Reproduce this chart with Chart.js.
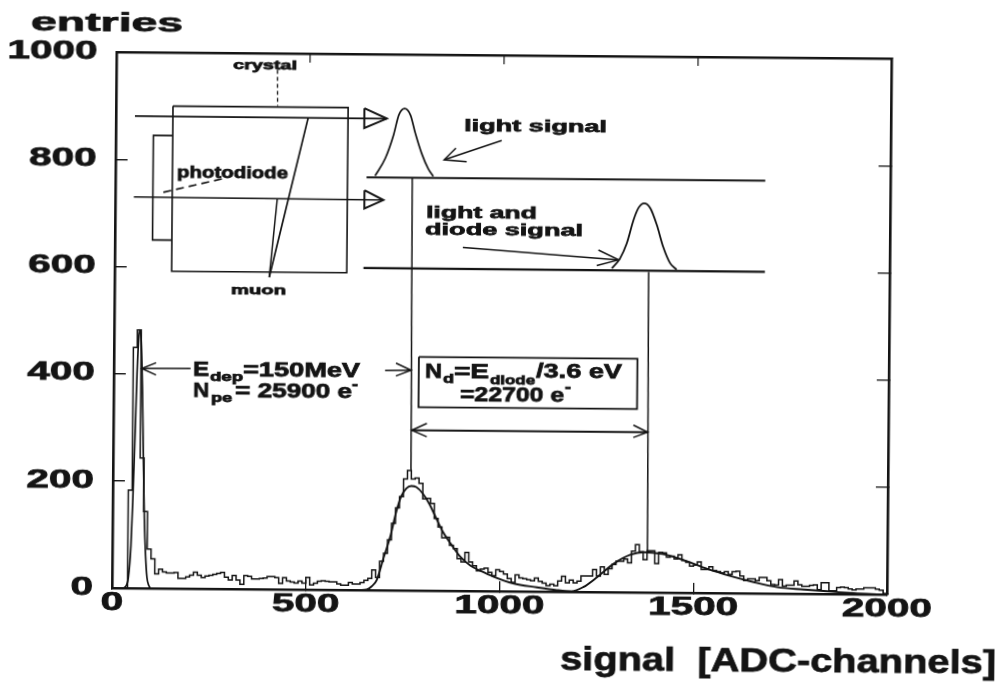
<!DOCTYPE html>
<html>
<head>
<meta charset="utf-8">
<title>signal spectrum</title>
<script src="https://cdn.jsdelivr.net/npm/chart.js@4"></script>
<style>
html,body{margin:0;padding:0;background:#fff;width:1000px;height:682px;overflow:hidden}
#c{display:block;transform-origin:112px 588px;transform:rotate(0.48deg)}
</style>
</head>
<body>
<canvas id="c" width="1000" height="682"></canvas>
<script>
// ---- histogram: entries per 10-ADC-channel bin
const binWidth = 10;
const entries = [
0,0,0,0,183,449,482,243,143,73,
55,27,36,31,29,29,30,19,19,22,
25,31,25,21,24,25,27,29,31,22,
17,25,17,9,25,24,19,19,20,21,
24,24,22,11,22,16,14,12,16,12,
23,9,12,16,17,16,15,15,11,9,
9,14,11,11,14,18,22,38,24,54,
69,94,125,154,175,208,224,208,210,200,
171,172,163,135,119,99,100,85,79,60,
54,72,54,47,38,41,43,35,29,40,
37,32,24,17,31,25,24,22,20,25,
19,16,11,14,11,20,29,17,22,17,
20,30,30,30,42,30,47,33,44,52,
58,58,62,55,77,89,76,61,78,78,
54,75,74,66,68,63,71,60,57,50,
52,58,44,44,49,42,40,38,40,35,
40,41,32,24,27,27,24,30,30,24,
17,16,26,14,16,16,24,17,14,14,
16,17,8,21,21,6,6,12,13,12,
10,8,10,10,12,12,12,10,8,2];

// ---- fitted curves
const pedestalFit = [[28,0],[35,3],[42,20],[48,80],[52,170],[56,280],[60,400],[64,470],[67,482],[70,465],[74,380],[78,250],[82,130],[86,60],[90,20],[95,5],[100,0]];
const peakFit = [[640,0],[657,1],[670,7],[683,19],[700,60],[718,103],[731,144],[744,175],[757,190],[770,195],[783,193],[800,181],[817,162],[834,137],[851,112],[873,88],[899,63],[925,47],[950,38],[985,27],[1035,15],[1096,8],[1148,3],[1186,1],[1216,9],[1252,28],[1294,53],[1337,70],[1371,75],[1419,72],[1475,61],[1536,45],[1596,32],[1656,21],[1717,12],[1785,8],[1846,5],[1914,2],[1984,0]];

// ---- inset sketch, in axis units
const crystalBox = [[147,900],[599,900],[599,592],[147,592],[147,900]];
const diodeBox = [[147,845],[97,845],[97,650],[147,650]];
const upperRay = [[49,881],[699,880]];
const upperHead = [[641,899],[699,880],[641,862],[641,899]];
const lowerRay = [[48,730],[692,728]];
const lowerHead = [[643,746],[692,728],[643,712],[643,746]];
const muonLong = [[399,582],[496,880]];
const muonShort = [[399,582],[418,728]];
const crystalLead = [[416,969],[417,902]];
const diodeLead = [[124,739],[287,767]];
const lightBase = [[648,770],[1677,770]];
const lightPulse = [[670,773],[696,806],[717,850],[730,887],[745,899],[760,887],[773,853],[790,815],[807,787],[820,773]];
const diodeBase = [[642,601],[1678,600]];
const diodePulse = [[1283,604],[1304,623],[1321,651],[1338,695],[1351,718],[1365,726],[1381,717],[1398,686],[1415,645],[1433,615],[1450,603]];
const lightDrop = [[766,769],[769,225]];
const diodeDrop = [[1378,598],[1381,76]];
const spanLine = [[770,299],[1379,299]];
const spanLeft = [[809,312],[770,299],[809,287]];
const spanRight = [[1342,312],[1379,299],[1342,289]];
const depArrow = [[198,411],[72,410]];
const depHead = [[109,421],[72,410],[109,398]];
const nextArrow = [[700,410],[767,411]];
const nextHead = [[728,424],[767,411],[728,400]];
const lightArrow = [[996,841],[848,804]];
const lightHead = [[878,826],[848,804],[906,801]];
const bothArrow = [[898,641],[1300,620]];
const bothHead = [[1248,638],[1300,620],[1244,609]];
const noteBox = [[787,436],[1351,436],[1351,342],[787,342],[787,436]];

// ---- axes
const xTicks = [0,500,1000,1500,2000];
const yTicks = [0,200,400,600,800,1000];

// ---- text: string, left and baseline on the page, font size, width on the page
const texts = [
 ['entries',31,30,25,152],
 ['signal  [ADC-channels]',560,670,33,436],
 ['crystal',233,69,13,64],
 ['photodiode',177,178,16,111],
 ['muon',231,294,13,55],
 ['light signal',464,131,17,143],
 ['light and',426,218,17,111],
 ['diode signal',425,235,17,158],
 ['E',193,376,20,16],['dep',210,381,12,33],['=150MeV',243,376,20,117],
 ['N',193,397,20,16],['pe',211,402,12,21],['= 25900 e',235,397,20,117],['-',352,389,14,6],
 ['N',425,378,20,17],['d',443,383,12,11],['=E',454,378,20,35],['diode',490,384,12,45],['/3.6 eV',536,378,20,86],
 ['=22700 e',460,401,20,104],['-',565,392,14,6]
];

const INK = '#141414';
const toPts = a => a.map(p => ({x:p[0], y:p[1]}));
const sketch = (a, w, extra) => Object.assign({type:'line', data:toPts(a), borderColor:INK, borderWidth:w, pointRadius:0, fill:false, tension:0}, extra || {});

const histPoints = [{x:0,y:0}].concat(entries.map((v,i) => ({x:i*binWidth, y:v})), [{x:entries.length*binWidth, y:0}]);

const datasets = [
 {type:'line', label:'entries', data:histPoints, stepped:true, borderColor:INK, borderWidth:1.5, pointRadius:0, fill:false},
 sketch(pedestalFit,1.7,{cubicInterpolationMode:'monotone'}),
 sketch(peakFit,1.9,{cubicInterpolationMode:'monotone'}),
 sketch(crystalBox,1.6), sketch(diodeBox,1.6),
 sketch(upperRay,1.7), sketch(upperHead,2), sketch(lowerRay,1.6), sketch(lowerHead,2),
 sketch(muonLong,1.7), sketch(muonShort,1.5),
 sketch(crystalLead,1.3,{borderDash:[4,3]}), sketch(diodeLead,1.6,{borderDash:[8,5]}),
 sketch(lightBase,2.1), sketch(lightPulse,1.7,{cubicInterpolationMode:'monotone'}),
 sketch(diodeBase,2.1), sketch(diodePulse,1.8,{cubicInterpolationMode:'monotone'}),
 sketch(lightDrop,1.5), sketch(diodeDrop,1.5),
 sketch(spanLine,1.8), sketch(spanLeft,1.5), sketch(spanRight,1.5),
 sketch(depArrow,1.4), sketch(depHead,1.5), sketch(nextArrow,1.4), sketch(nextHead,1.5),
 sketch(lightArrow,1.5), sketch(lightHead,1.5), sketch(bothArrow,1.6), sketch(bothHead,1.5),
 sketch(noteBox,1.8)
];

const TILT = 0.48 * Math.PI / 180;
let stretch = 1.62;

const inkText = {
 id:'inkText',
 beforeDraw(chart){
  const ctx = chart.ctx;
  if (ctx.__wrapped) return;
  ctx.__wrapped = true;
  const fill = ctx.fillText.bind(ctx), stroke = ctx.strokeText.bind(ctx);
  ctx.fillText = function(t, x, y){
   ctx.save();
   ctx.translate(x, y);
   ctx.scale(stretch, 1);
   ctx.lineWidth = 0.75;
   ctx.strokeStyle = ctx.fillStyle;
   fill(t, 0, 0);
   stroke(t, 0, 0);
   ctx.restore();
  };
 },
 afterDraw(chart){
  const ctx = chart.ctx, th = Math.tan(TILT);
  ctx.save();
  ctx.fillStyle = INK;
  ctx.textAlign = 'left';
  ctx.textBaseline = 'alphabetic';
  texts.forEach(([t,X,Y,size,w]) => {
   const dx = X-112, dy = 588-Y;
   const v = dy + dx*th, u = dx - v*th;
   ctx.font = 'bold '+size+'px "Liberation Sans"';
   stretch = w / ctx.measureText(t).width;
   ctx.fillText(t, 112+u, 588-v);
  });
  stretch = 1.62;
  ctx.restore();
 }
};

const frame = {display:true, color:INK, width:2.6};
const tickFont = {family:'"Liberation Sans"', size:25, weight:'bold'};
const plain = v => String(v);

new Chart(document.getElementById('c'), {
 data:{datasets},
 plugins:[inkText],
 options:{
  responsive:false, animation:false, events:[],
  layout:{padding:{left:0,top:52,right:113,bottom:0}},
  plugins:{legend:{display:false}, title:{display:false}, tooltip:{enabled:false}},
  scales:{
   x:{type:'linear', position:'bottom', min:0, max:2000,
      afterBuildTicks:s => { s.ticks = xTicks.map(v => ({value:v})); },
      afterFit:s => { s.height = 94; },
      border:frame,
      grid:{drawOnChartArea:false, color:INK, lineWidth:1.3, tickLength:-10},
      ticks:{color:INK, font:tickFont, padding:10, maxRotation:0, autoSkip:false, callback:plain}},
   y:{type:'linear', position:'left', min:0, max:1000,
      afterBuildTicks:s => { s.ticks = yTicks.map(v => ({value:v})); },
      afterFit:s => { s.width = 112; },
      border:frame,
      grid:{drawOnChartArea:false, color:INK, lineWidth:1.4, tickLength:-12},
      ticks:{color:INK, font:tickFont, padding:31, autoSkip:false, callback:plain}},
   x2:{type:'linear', axis:'x', position:'top', min:0, max:2000,
      afterBuildTicks:s => { s.ticks = xTicks.map(v => ({value:v})); },
      afterFit:s => { s.height = 0; },
      border:frame,
      grid:{drawOnChartArea:false, color:INK, lineWidth:1.2, tickLength:-9},
      ticks:{display:false}},
   y2:{type:'linear', axis:'y', position:'right', min:0, max:1000,
      afterBuildTicks:s => { s.ticks = yTicks.map(v => ({value:v})); },
      afterFit:s => { s.width = 0; },
      border:frame,
      grid:{drawOnChartArea:false, color:INK, lineWidth:1.3, tickLength:-12},
      ticks:{display:false}}
  }
 }
});
</script>
</body>
</html>
